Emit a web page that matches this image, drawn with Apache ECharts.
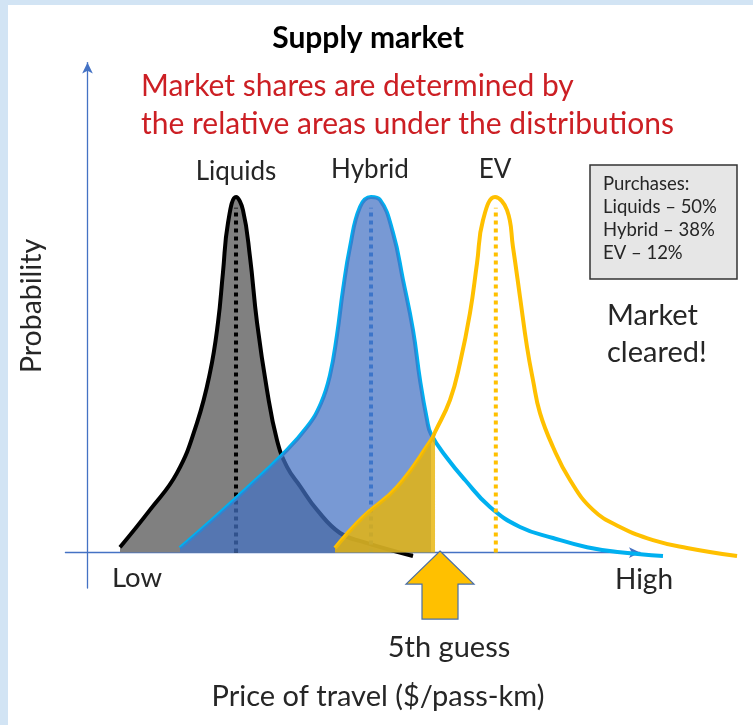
<!DOCTYPE html>
<html>
<head>
<meta charset="utf-8">
<script src="https://cdn.jsdelivr.net/npm/echarts@6/dist/echarts.min.js"></script>
<style>
  html, body { margin: 0; padding: 0; background: #d2e4f4; }
  #chart { width: 753px; height: 725px; }
</style>
</head>
<body>
<div id="chart"></div>
<script>
// ---- data (price index: 0 = Low ... 100 = High; probability: peak = 1) ----
const liquidsX = [5.88, 11.31, 16.20, 19.82, 22.17, 23.62, 24.52, 25.43, 26.88, 28.14, 29.41, 30.68, 32.49, 34.30, 36.11, 38.46, 41.54, 45.70, 49.86, 58.91];
const liquidsY = [0.015, 0.120, 0.224, 0.365, 0.506, 0.647, 0.788, 0.927, 1.0, 0.963, 0.831, 0.647, 0.457, 0.316, 0.241, 0.187, 0.120, 0.055, 0.030, -0.010];

const hybridX = [16.74, 22.71, 28.87, 35.20, 39.73, 42.26, 43.89, 45.16, 46.24, 47.51, 49.32, 51.31, 52.94, 55.29, 57.10, 58.91, 60.18, 61.45, 62.17, 65.07, 68.33, 72.85, 78.28, 84.25, 90.41, 96.38, 104.16];
const hybridY = [0.013, 0.094, 0.181, 0.274, 0.353, 0.420, 0.499, 0.612, 0.738, 0.859, 0.972, 1.0, 0.992, 0.899, 0.767, 0.626, 0.485, 0.373, 0.333, 0.266, 0.204, 0.128, 0.072, 0.041, 0.015, 0.001, -0.010];

const evX = [44.80, 49.86, 56.02, 62.17, 62.90, 65.61, 67.42, 69.23, 70.50, 71.58, 73.76, 75.93, 77.01, 78.28, 79.55, 80.63, 81.90, 84.25, 87.33, 91.49, 96.38, 102.35, 108.51, 117.56];
const evY = [0.013, 0.100, 0.184, 0.316, 0.339, 0.429, 0.533, 0.674, 0.814, 0.935, 1.0, 0.963, 0.859, 0.719, 0.578, 0.485, 0.392, 0.297, 0.204, 0.120, 0.072, 0.035, 0.013, -0.010];

const peakNames = ['Liquids', 'Hybrid', 'EV'];
const peakPrice = [26.88, 51.31, 73.9];
const peakTop = [0.97, 0.97, 0.97];

const fillCut = [62.2, 62.2, 62.9];   // areas counted up to the guessed price
const guessPrice = [63.8];
const guessLabel = '5th guess';

const shareNames = ['Liquids', 'Hybrid', 'EV'];
const sharePct = [50, 38, 12];

const axisLabels = ['Low', 'High'];

// ---- build ----
function pts(xs, ys) { return xs.map((x, i) => [x, ys[i]]); }
function upTo(xs, ys, cut) { return pts(xs, ys).filter(p => p[0] <= cut + 1e-9); }

const FONT = 'Lato, "Open Sans", sans-serif';
const TXT = '#262626';
const SMOOTH = 0.45;

const chart = echarts.init(document.getElementById('chart'), null, { renderer: 'canvas' });

function base(z) {
  return { type: 'line', xAxisIndex: 1, yAxisIndex: 1, symbol: 'none', clip: false, z: z, silent: true, animation: false };
}
function lineSeries(data, color, width, z) {
  return Object.assign(base(z), { data: data, smooth: SMOOTH, lineStyle: { color: color, width: width } });
}
function areaSeries(data, color, z) {
  return Object.assign(base(z), { data: data, smooth: SMOOTH,
    lineStyle: { width: 0, opacity: 0 }, areaStyle: { color: color, opacity: 1, origin: 0 } });
}
function dotted(i, color, z) {
  return Object.assign(base(z), { data: [[peakPrice[i], 0], [peakPrice[i], peakTop[i]]],
    lineStyle: { color: color, width: 4, type: [4, 4] } });
}
const hidden = { show: false };
function txt(x, y, text, size, extra) {
  return Object.assign({ type: 'text', x: x, y: y, style: Object.assign({ text: text, font: size + 'px ' + FONT, fill: TXT, align: 'center', verticalAlign: 'middle' }, (extra && extra.style) || {}) }, extra && extra.el || {});
}

const option = {
  backgroundColor: '#d2e4f4',
  animation: false,
  grid: [
    { left: 65.4, width: 574.6, top: 62.6, height: 525.5 },
    { left: 65.4, width: 687.6, top: 62.6, height: 525.5 }
  ],
  xAxis: [
    { gridIndex: 0, type: 'value', min: -4, max: 100,
      axisLine: { show: true, onZero: true, symbol: ['none', 'arrow'], symbolSize: [8, 11],
        lineStyle: { color: '#4472c4', width: 1.3 } },
      axisTick: hidden, axisLabel: hidden, splitLine: hidden },
    { gridIndex: 1, type: 'value', min: -4, max: 120.45,
      axisLine: hidden, axisTick: hidden, axisLabel: hidden, splitLine: hidden }
  ],
  yAxis: [
    { gridIndex: 0, type: 'value', min: -0.1, max: 1.378,
      axisLine: { show: true, onZero: true, symbol: ['none', 'arrow'], symbolSize: [8, 11],
        lineStyle: { color: '#4472c4', width: 1.3 } },
      axisTick: hidden, axisLabel: hidden, splitLine: hidden },
    { gridIndex: 1, type: 'value', min: -0.1, max: 1.378,
      axisLine: hidden, axisTick: hidden, axisLabel: hidden, splitLine: hidden }
  ],
  graphic: [
    { type: 'rect', shape: { x: 8, y: 5, width: 745, height: 720 }, style: { fill: '#ffffff' }, z: -100 },
    txt(368, 38, 'Supply market', 30, { style: { font: 'bold 30px ' + FONT, fill: '#000' } }),
    txt(141, 86, 'Market shares are determined by', 30, { style: { fill: '#cc1f24', align: 'left' } }),
    txt(141, 124, 'the relative areas under the distributions', 30, { style: { fill: '#cc1f24', align: 'left' } }),
    txt(236, 172, peakNames[0], 26),
    txt(370, 170, peakNames[1], 26),
    txt(495, 170, peakNames[2], 26),
    { type: 'rect', shape: { x: 590, y: 165, width: 147, height: 114 }, style: { fill: '#e6e6e6', stroke: '#333', lineWidth: 1.5 } },
    txt(603, 184, 'Purchases:', 18.5, { style: { align: 'left' } }),
    txt(603, 207, shareNames[0] + ' \u2013 ' + sharePct[0] + '%', 18.5, { style: { align: 'left' } }),
    txt(603, 230, shareNames[1] + ' \u2013 ' + sharePct[1] + '%', 18.5, { style: { align: 'left' } }),
    txt(603, 253, shareNames[2] + ' \u2013 ' + sharePct[2] + '%', 18.5, { style: { align: 'left' } }),
    txt(607, 316, 'Market', 29, { style: { align: 'left' } }),
    txt(607, 353, 'cleared!', 29, { style: { align: 'left' } }),
    txt(112, 578, axisLabels[0], 27.5, { style: { align: 'left' } }),
    txt(644, 580, axisLabels[1], 28),
    txt(449, 648, guessLabel, 29),
    txt(378, 697, 'Price of travel ($/pass-km)', 29),
    txt(32, 306, 'Probability', 28.5, { el: { rotation: Math.PI / 2 } })
  ],
  series: [
    areaSeries(upTo(liquidsX, liquidsY, fillCut[0]), '#808080', 1),
    lineSeries(pts(liquidsX, liquidsY), '#000000', 4, 2),
    dotted(0, '#000000', 3),
    lineSeries(pts(hybridX, hybridY), '#00b0f0', 4, 4),
    dotted(1, '#2e7fd6', 5),
    areaSeries(upTo(hybridX, hybridY, fillCut[1]), 'rgba(68,114,196,0.72)', 6),
    lineSeries(pts(evX, evY), '#ffc000', 4, 7),
    areaSeries(upTo(evX, evY, fillCut[2]), 'rgba(232,180,10,0.82)', 8),
    dotted(2, '#ffc000', 9),
    {
      type: 'scatter', xAxisIndex: 1, yAxisIndex: 1, data: [[guessPrice[0], -0.0914]], clip: false, z: 10, silent: true,
      symbol: 'path://M34,0 L68,33 L52,33 L52,68 L16,68 L16,33 L0,33 Z', symbolSize: [68, 68],
      itemStyle: { color: '#ffc000', borderColor: '#4a6fa5', borderWidth: 1.2, opacity: 1 }
    }
  ]
};
chart.setOption(option);
</script>
</body>
</html>
